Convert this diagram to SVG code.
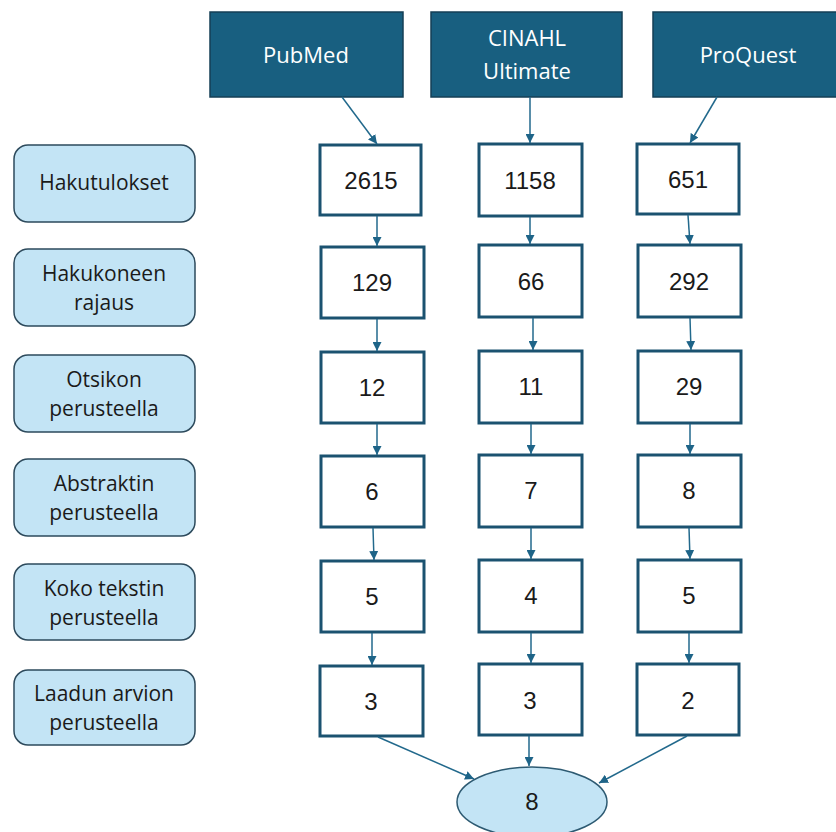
<svg xmlns="http://www.w3.org/2000/svg" width="836" height="832" viewBox="0 0 836 832">
<style>
.db{fill:#185f80;stroke:#143f56;stroke-width:1.5}
.dbt{font-family:"Open Sans",sans-serif;font-size:22px;fill:#ffffff;text-anchor:middle}
.lab{fill:#c3e4f5;stroke:#2d4a5c;stroke-width:1.5}
.labt{font-family:"Open Sans",sans-serif;font-size:21px;fill:#1a1a1a;text-anchor:middle}
.num{fill:#ffffff;stroke:#1b5270;stroke-width:3}
.numt{font-family:"Liberation Sans",Arial,sans-serif;font-size:24px;fill:#1a1a1a;text-anchor:middle}
.con line{stroke:#22698c;stroke-width:1.5;marker-end:url(#ah)}
</style>
<defs>
<marker id="ah" viewBox="0 0 10 10" refX="10" refY="5" markerWidth="9" markerHeight="9" markerUnits="userSpaceOnUse" orient="auto">
<path d="M0,0 L10,5 L0,10 z" fill="#1e6488"/>
</marker>
</defs>
<rect width="836" height="832" fill="#ffffff"/>

<g id="db-pubmed"><rect class="db" x="210" y="12" width="193" height="85"/><text class="dbt" x="306" y="63">PubMed</text></g>
<g id="db-cinahl"><rect class="db" x="431" y="12" width="191" height="85"/><text class="dbt" x="527" y="46">CINAHL</text><text class="dbt" x="527" y="79">Ultimate</text></g>
<g id="db-proquest"><rect class="db" x="653" y="12" width="190" height="85"/><text class="dbt" x="748" y="63">ProQuest</text></g>

<g id="lab-1"><rect class="lab" x="14" y="145" width="181" height="77" rx="14"/><text class="labt" x="104" y="190">Hakutulokset</text></g>
<g id="lab-2"><rect class="lab" x="14" y="249" width="181" height="77" rx="14"/><text class="labt" x="104" y="281">Hakukoneen</text><text class="labt" x="104" y="310">rajaus</text></g>
<g id="lab-3"><rect class="lab" x="14" y="355" width="181" height="77" rx="14"/><text class="labt" x="104" y="387">Otsikon</text><text class="labt" x="104" y="416">perusteella</text></g>
<g id="lab-4"><rect class="lab" x="14" y="459" width="181" height="77" rx="14"/><text class="labt" x="104" y="491">Abstraktin</text><text class="labt" x="104" y="520">perusteella</text></g>
<g id="lab-5"><rect class="lab" x="14" y="564" width="181" height="76" rx="14"/><text class="labt" x="104" y="596">Koko tekstin</text><text class="labt" x="104" y="625">perusteella</text></g>
<g id="lab-6"><rect class="lab" x="14" y="670" width="181" height="75" rx="14"/><text class="labt" x="104" y="701">Laadun arvion</text><text class="labt" x="104" y="730">perusteella</text></g>

<g id="n-1-1"><rect class="num" x="320" y="145" width="101" height="70"/><text class="numt" x="371" y="189">2615</text></g>
<g id="n-2-1"><rect class="num" x="479" y="144" width="103" height="72"/><text class="numt" x="530" y="189">1158</text></g>
<g id="n-3-1"><rect class="num" x="637" y="144" width="102" height="70"/><text class="numt" x="688" y="188">651</text></g>

<g id="n-1-2"><rect class="num" x="321" y="247" width="103" height="71"/><text class="numt" x="372" y="291">129</text></g>
<g id="n-2-2"><rect class="num" x="479" y="245" width="103" height="72"/><text class="numt" x="531" y="290">66</text></g>
<g id="n-3-2"><rect class="num" x="638" y="245" width="103" height="72"/><text class="numt" x="689" y="290">292</text></g>

<g id="n-1-3"><rect class="num" x="321" y="352" width="103" height="71"/><text class="numt" x="372" y="396">12</text></g>
<g id="n-2-3"><rect class="num" x="479" y="351" width="103" height="72"/><text class="numt" x="531" y="395">11</text></g>
<g id="n-3-3"><rect class="num" x="638" y="351" width="103" height="72"/><text class="numt" x="689" y="395">29</text></g>

<g id="n-1-4"><rect class="num" x="321" y="456" width="103" height="71"/><text class="numt" x="372" y="500">6</text></g>
<g id="n-2-4"><rect class="num" x="479" y="455" width="103" height="72"/><text class="numt" x="531" y="499">7</text></g>
<g id="n-3-4"><rect class="num" x="638" y="455" width="103" height="72"/><text class="numt" x="689" y="499">8</text></g>

<g id="n-1-5"><rect class="num" x="321" y="561" width="103" height="71"/><text class="numt" x="372" y="605">5</text></g>
<g id="n-2-5"><rect class="num" x="479" y="560" width="103" height="72"/><text class="numt" x="531" y="604">4</text></g>
<g id="n-3-5"><rect class="num" x="638" y="560" width="103" height="72"/><text class="numt" x="689" y="604">5</text></g>

<g id="n-1-6"><rect class="num" x="320" y="666" width="103" height="70"/><text class="numt" x="371" y="710">3</text></g>
<g id="n-2-6"><rect class="num" x="479" y="664" width="103" height="71"/><text class="numt" x="530" y="709">3</text></g>
<g id="n-3-6"><rect class="num" x="637" y="664" width="102" height="71"/><text class="numt" x="688" y="709">2</text></g>

<g id="result"><ellipse cx="532" cy="802" rx="75" ry="35" fill="#c3e4f5" stroke="#2d5a72" stroke-width="1.5"/><text class="numt" x="532" y="810">8</text></g>

<g id="connectors" class="con">
<line x1="342" y1="97" x2="377" y2="144"/>
<line x1="530" y1="97" x2="530" y2="143"/>
<line x1="717" y1="97" x2="690" y2="143"/>

<line x1="377" y1="216" x2="377" y2="246"/>
<line x1="530" y1="217" x2="530" y2="244"/>
<line x1="688" y1="215" x2="690" y2="244"/>

<line x1="377" y1="319" x2="377" y2="351"/>
<line x1="533" y1="318" x2="533" y2="350"/>
<line x1="690" y1="318" x2="691" y2="350"/>

<line x1="377" y1="424" x2="377" y2="455"/>
<line x1="531" y1="424" x2="531" y2="454"/>
<line x1="690" y1="424" x2="690" y2="454"/>

<line x1="373" y1="528" x2="374" y2="560"/>
<line x1="531" y1="528" x2="531" y2="559"/>
<line x1="689" y1="528" x2="690" y2="559"/>

<line x1="372" y1="633" x2="372" y2="665"/>
<line x1="531" y1="633" x2="531" y2="663"/>
<line x1="689" y1="633" x2="689" y2="663"/>

<line x1="378" y1="737" x2="474" y2="779"/>
<line x1="529" y1="736" x2="529" y2="766"/>
<line x1="687" y1="736" x2="599" y2="783"/>
</g>
</svg>
